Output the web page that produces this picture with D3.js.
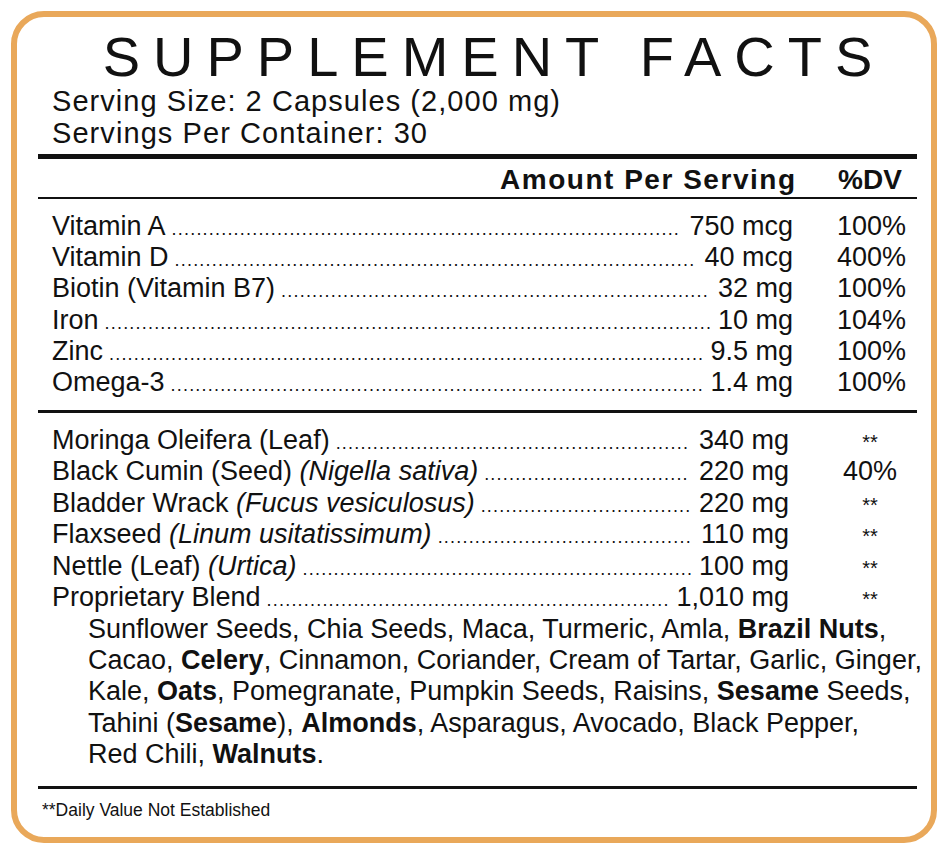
<!DOCTYPE html><html><head><meta charset="utf-8"><script src="https://cdn.jsdelivr.net/npm/d3@7"></script>
<style>body{margin:0;background:#fff}text{font-family:"Liberation Sans",Arial,sans-serif;fill:#111}</style></head><body>
<script>
const title="SUPPLEMENT FACTS";
const servingLines=["Serving Size: 2 Capsules (2,000 mg)","Servings Per Container: 30"];
const vitNames=[[["Vitamin A",0]],[["Vitamin D",0]],[["Biotin (Vitamin B7)",0]],[["Iron",0]],[["Zinc",0]],[["Omega-3",0]]];
const vitAmounts=["750 mcg","40 mcg","32 mg","10 mg","9.5 mg","1.4 mg"];
const vitDV=["100%","400%","100%","104%","100%","100%"];
const herbNames=[[["Moringa Oleifera (Leaf)",0]],[["Black Cumin (Seed) ",0],["(Nigella sativa)",1]],[["Bladder Wrack ",0],["(Fucus vesiculosus)",1]],[["Flaxseed ",0],["(Linum usitatissimum)",1]],[["Nettle (Leaf) ",0],["(Urtica)",1]],[["Proprietary Blend",0]]];
const herbAmounts=["340 mg","220 mg","220 mg","110 mg","100 mg","1,010 mg"];
const herbDV=["**","40%","**","**","**","**"];
const blendLines=[
[["Sunflower Seeds, Chia Seeds, Maca, Turmeric, Amla, ",0],["Brazil Nuts",1],[",",0]],
[["Cacao, ",0],["Celery",1],[", Cinnamon, Coriander, Cream of Tartar, Garlic, Ginger,",0]],
[["Kale, ",0],["Oats",1],[", Pomegranate, Pumpkin Seeds, Raisins, ",0],["Sesame",1],[" Seeds,",0]],
[["Tahini (",0],["Sesame",1],["), ",0],["Almonds",1],[", Asparagus, Avocado, Black Pepper,",0]],
[["Red Chili, ",0],["Walnuts",1],[".",0]]];
const footnote="**Daily Value Not Established";

const svg=d3.select("body").append("svg").attr("width",948).attr("height",850);
svg.append("rect").attr("x",14).attr("y",14).attr("width",920).attr("height",826).attr("rx",30)
 .attr("fill","#fff").attr("stroke","#E9A85A").attr("stroke-width",6);
svg.append("text").attr("x",494).attr("y",76).attr("text-anchor","middle").attr("font-size",56)
 .attr("letter-spacing",13).text(title);
servingLines.forEach((s,i)=>svg.append("text").attr("x",52).attr("y",111+i*32).attr("font-size",29).attr("textLength",i?375:508).text(s));
const hl=(y,w)=>svg.append("rect").attr("x",38).attr("y",y).attr("width",879).attr("height",w).attr("fill","#111");
hl(154,5);hl(197,2);hl(410,3);hl(786,3);
svg.append("text").attr("x",795).attr("y",189).attr("text-anchor","end").attr("font-size",28).attr("font-weight","bold").attr("textLength",295).text("Amount Per Serving");
svg.append("text").attr("x",870).attr("y",189).attr("text-anchor","middle").attr("font-size",28).attr("font-weight","bold").text("%DV");

function row(parts,y,amount,amtRight,dv,dvX,dvAnchor){
 const t=svg.append("text").attr("x",52).attr("y",y).attr("font-size",27);
 parts.forEach(p=>t.append("tspan").attr("font-style",p[1]?"italic":null).text(p[0]));
 const a=svg.append("text").attr("x",amtRight).attr("y",y).attr("text-anchor","end").attr("font-size",27).text(amount);
 const x0=52+t.node().getComputedTextLength()+6, x1=amtRight-a.node().getComputedTextLength()-5;
 const d=svg.append("text").attr("x",x0).attr("y",y).attr("font-size",18).attr("letter-spacing",1.2);
 let n=Math.max(0,Math.floor((x1-x0)/5)); d.text(".".repeat(n));
 while(n>0&&d.node().getComputedTextLength()>x1-x0){n--;d.text(".".repeat(n));}
 svg.append("text").attr("x",dvX).attr("y",y).attr("text-anchor",dvAnchor).attr("font-size",dv==="**"?20:27).text(dv);
}
vitNames.forEach((n,i)=>row(n,235+i*31.2,vitAmounts[i],793,vitDV[i],906,"end"));
herbNames.forEach((n,i)=>row(n,449+i*31.4,herbAmounts[i],789,herbDV[i],870,"middle"));
blendLines.forEach((l,i)=>{const t=svg.append("text").attr("x",88).attr("y",638+i*31.2).attr("font-size",27);
 l.forEach(p=>t.append("tspan").attr("font-weight",p[1]?"bold":null).text(p[0]));});
svg.append("text").attr("x",42).attr("y",816).attr("font-size",17.5).text(footnote);
</script></body></html>
